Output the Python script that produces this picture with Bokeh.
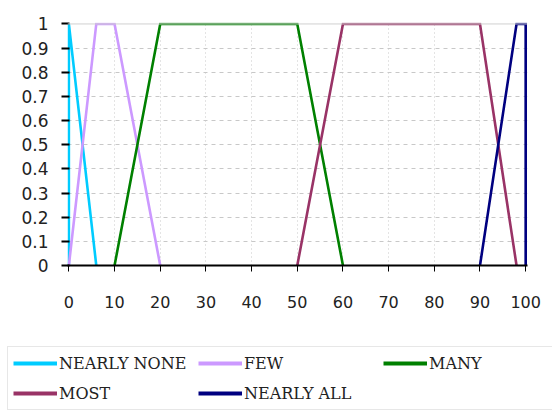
from bokeh.plotting import figure
from bokeh.layouts import column
from bokeh.models import (Range1d, FixedTicker, Legend, LegendItem, Span)
from bokeh.embed import file_html
from bokeh.resources import INLINE

# Membership functions of the fuzzy quantifiers (x = percentage, y = degree)
series_names = ["NEARLY NONE", "FEW", "MANY", "MOST", "NEARLY ALL"]
series_colors = ["#00CCFF", "#CC99FF", "#008000", "#993366", "#000080"]

nearly_none_x = [0, 0, 6]
nearly_none_y = [0, 1, 0]

few_x = [0, 6, 10, 20]
few_y = [0, 1, 1, 0]

many_x = [10, 20, 50, 60]
many_y = [0, 1, 1, 0]

most_x = [50, 60, 90, 98]
most_y = [0, 1, 1, 0]

nearly_all_x = [90, 98, 100, 100]
nearly_all_y = [0, 1, 1, 0]

x_ticks = [0, 10, 20, 30, 40, 50, 60, 70, 80, 90, 100]
y_ticks = [0, 0.1, 0.2, 0.3, 0.4, 0.5, 0.6, 0.7, 0.8, 0.9, 1]
y_tick_labels = ["0", "0.1", "0.2", "0.3", "0.4", "0.5", "0.6", "0.7", "0.8", "0.9", "1"]

p = figure(width=552, height=310, output_backend="svg", toolbar_location=None,
           x_range=Range1d(-0.3, 100.4), y_range=Range1d(0, 1.006),
           min_border_left=67, min_border_right=25, min_border_top=22,
           min_border_bottom=44, background_fill_color="white",
           border_fill_color="white")
p.outline_line_color = None
p.frame_align = False

tick_font = "DejaVu Sans"

# x axis
xa = p.xaxis[0]
xa.ticker = FixedTicker(ticks=x_ticks)
xa.axis_line_color = "black"
xa.axis_line_width = 2
xa.major_tick_line_color = "black"
xa.major_tick_out = 6
xa.major_tick_in = 0
xa.minor_tick_line_color = None
xa.major_label_text_font = tick_font
xa.major_label_text_font_size = "16px"
xa.major_label_text_color = "#222222"
xa.major_label_standoff = 24

# y axis
ya = p.yaxis[0]
ya.ticker = FixedTicker(ticks=y_ticks)
ya.major_label_overrides = {t: s for t, s in zip(y_ticks, y_tick_labels)}
ya.axis_line_color = None
ya.major_tick_line_color = "black"
ya.major_tick_line_width = 2
ya.major_tick_out = 6
ya.major_tick_in = 2
ya.minor_tick_line_color = None
ya.major_label_text_font = tick_font
ya.major_label_text_font_size = "17px"
ya.major_label_text_color = "#222222"
ya.major_label_standoff = 13

# gridlines
p.xgrid.ticker = FixedTicker(ticks=x_ticks[1:-1])
p.xgrid.grid_line_color = "#c8c8c8"
p.xgrid.grid_line_dash = "1 3"
p.ygrid.ticker = FixedTicker(ticks=y_ticks[1:-1])
p.ygrid.grid_line_color = "#c8c8c8"
p.ygrid.grid_line_dash = "4 4"
p.add_layout(Span(location=1, dimension="width", line_color="#d0d0d0", line_width=1))

xs = [nearly_none_x, few_x, many_x, most_x, nearly_all_x]
ys = [nearly_none_y, few_y, many_y, most_y, nearly_all_y]

for color, x, y in zip(series_colors, xs, ys):
    p.line(x, y, line_color=color, line_width=2.6, line_join="miter")

# Legend strip underneath the chart; its own copies of the series sit
# outside its (empty) view window and only supply the legend swatches.
lg = figure(width=552, height=100, output_backend="svg", toolbar_location=None,
            x_axis_type=None, y_axis_type=None, min_border=0,
            x_range=Range1d(500, 600), y_range=Range1d(0, 1),
            background_fill_color="white", border_fill_color="white")
lg.outline_line_color = None
lg.grid.visible = False
lg.frame_align = False

items = []
for name, color, x, y in zip(series_names, series_colors, xs, ys):
    r = lg.line(x, y, line_color=color, line_width=4)
    items.append(LegendItem(label=name, renderers=[r]))

legend = Legend(items=items, orientation="horizontal", ncols=3,
                location=(7, 0), margin=0, padding=5,
                glyph_width=44, glyph_height=22, label_height=22,
                label_width=131, label_standoff=2, spacing=8,
                label_text_font="DejaVu Serif", label_text_font_size="16px",
                label_text_color="#222222",
                border_line_color="#d0d0d0", border_line_width=1,
                background_fill_color="white")
lg.add_layout(legend, "center")

open("out.html", "w").write(file_html(column(p, lg, spacing=0), INLINE))
